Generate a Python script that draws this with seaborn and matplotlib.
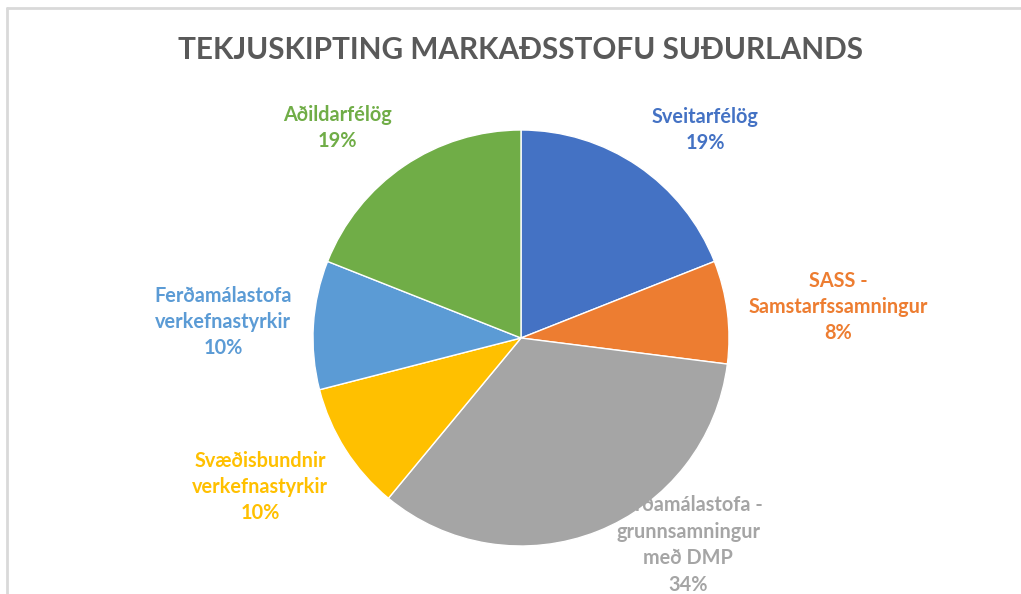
import matplotlib
matplotlib.use("Agg")
import matplotlib.pyplot as plt
import seaborn as sns
from matplotlib.lines import Line2D

# Data
labels = [
    "Sveitarfélög",
    "SASS -\nSamstarfssamningur",
    "Ferðamálastofa -\ngrunnsamningur\nmeð DMP",
    "Svæðisbundnir\nverkefnastyrkir",
    "Ferðamálastofa\nverkefnastyrkir",
    "Aðildarfélög",
]
shares = [19, 8, 34, 10, 10, 19]
colors = ["#4472C4", "#ED7D31", "#A5A5A5", "#FFC000", "#5B9BD5", "#70AD47"]

title = "TEKJUSKIPTING MARKAÐSSTOFU SUÐURLANDS"

sns.set_theme(style="white")
plt.rcParams['font.family'] = ['Lato', 'DejaVu Sans']

W, H, dpi = 1021, 594, 100
fig = plt.figure(figsize=(W / dpi, H / dpi), dpi=dpi)
fig.patch.set_facecolor("white")
ax = fig.add_axes([0, 0, 1, 1])

wedges, _ = ax.pie(shares, colors=colors, startangle=90, counterclock=False,
                   radius=1.0, wedgeprops=dict(edgecolor="white", linewidth=1))

# label placement (in pie radius units)
label_pos = [(0.885, 1.0), (1.524, 0.149), (0.803, -0.995),
             (-1.255, -0.716), (-1.433, 0.077), (-0.884, 1.01)]
for lab, val, col, (x, y) in zip(labels, shares, colors, label_pos):
    ax.text(x, y, f"{lab}\n{val}%", color=col, fontsize=14.3, fontweight="bold",
            ha="center", va="center", linespacing=1.4, zorder=5)

# scale: pie radius ~208 px, centre at (521, 338) from top-left
r = 208.0
cx, cy = 521.0, 338.0
ax.set_xlim(-cx / r, (W - cx) / r)
ax.set_ylim(-(H - cy) / r, cy / r)
ax.set_aspect("auto")
ax.axis("off")

fig.text(520 / W, 1 - 50 / H, title, ha="center", va="center",
         fontsize=21.4, fontweight="bold", color="#595959")

# chart frame (only top and left edges visible)
fc = "#D9D9D9"
fig.add_artist(Line2D([7 / W, 1.0], [1 - 8 / H, 1 - 8 / H], color=fc, lw=2,
                      transform=fig.transFigure))
fig.add_artist(Line2D([7 / W, 7 / W], [0.0, 1 - 8 / H], color=fc, lw=2,
                      transform=fig.transFigure))

fig.savefig("out.png", dpi=dpi, facecolor="white")
